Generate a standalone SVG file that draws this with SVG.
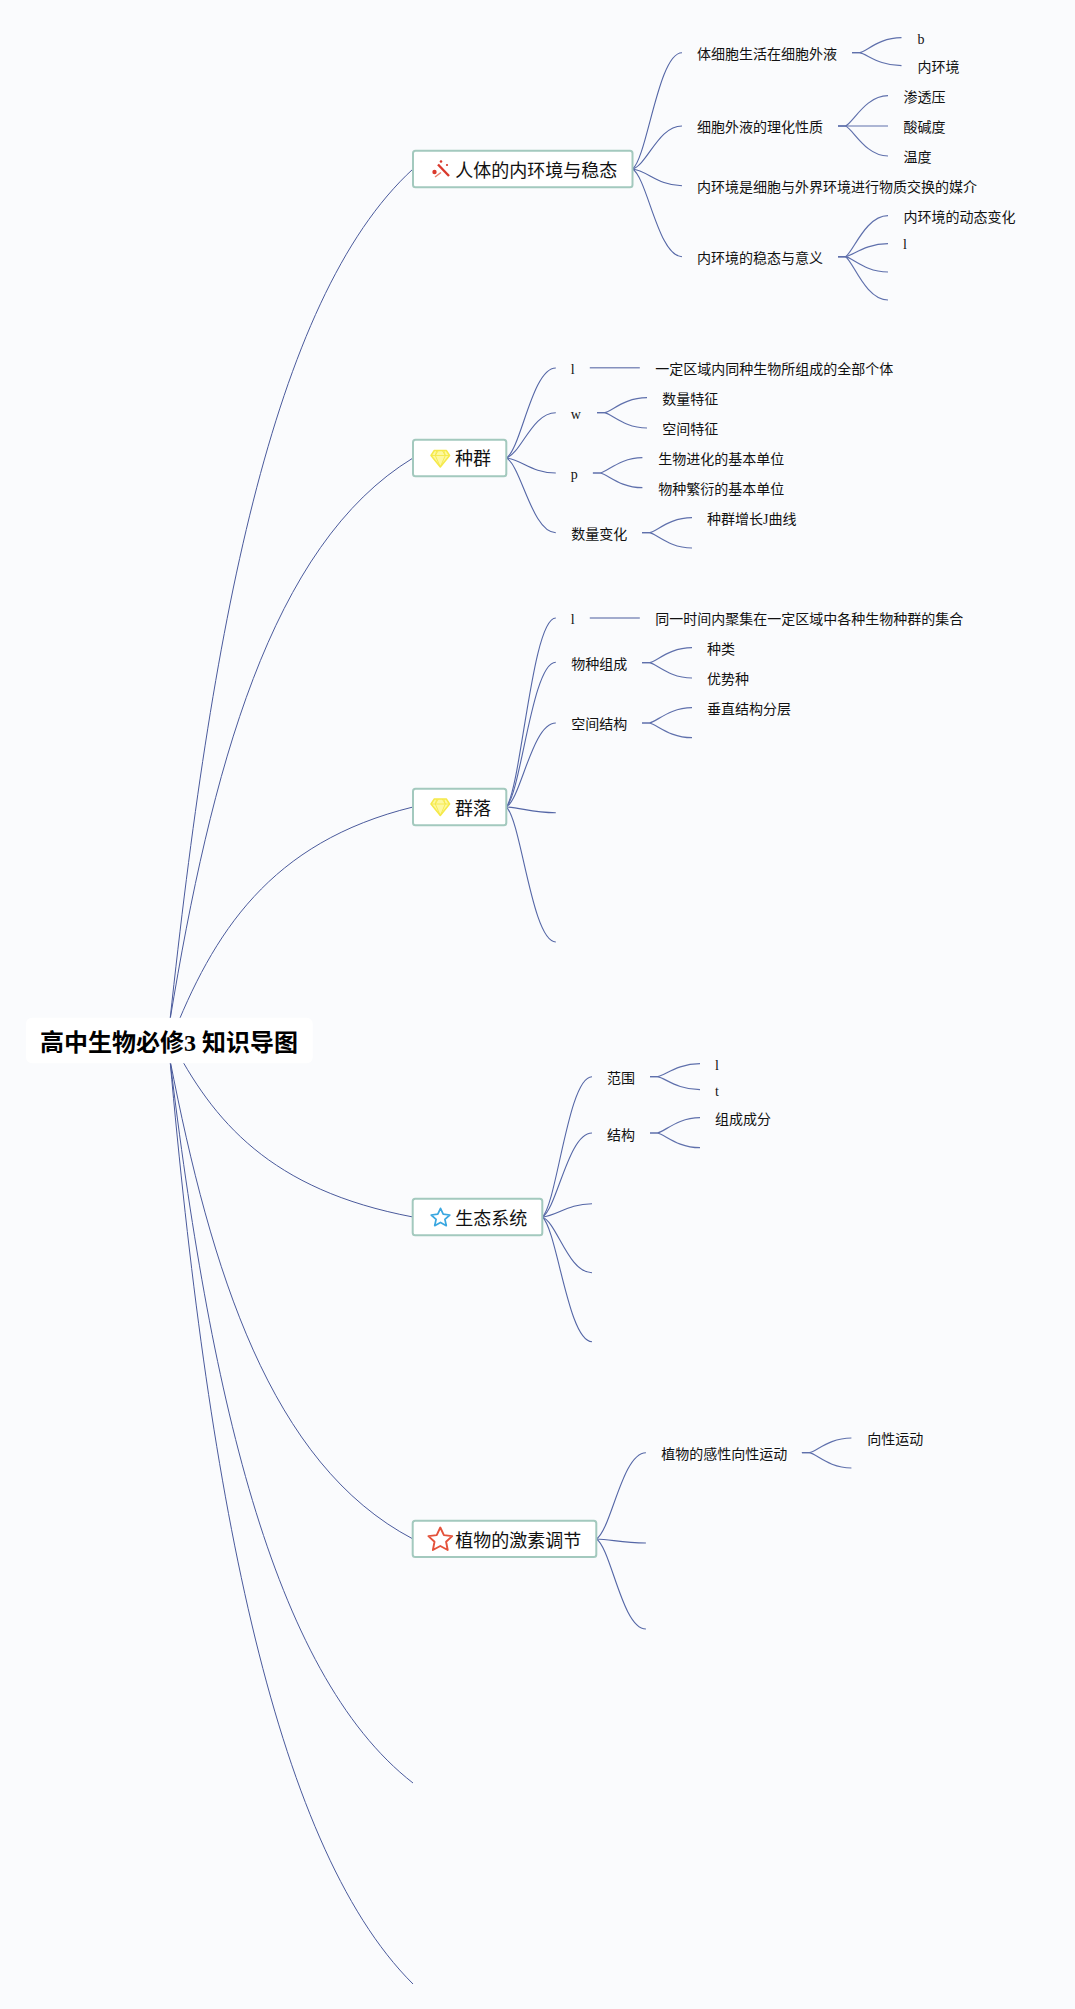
<svg xmlns="http://www.w3.org/2000/svg" width="1075" height="2009" viewBox="0 0 1075 2009">
<style>
text{font-family:"Liberation Serif","Noto Sans CJK SC",serif;fill:#111}
.t{font-size:14px}
.m{font-size:18px}
.r{font-size:24px;font-weight:700;fill:#000}
.box{fill:#fff;stroke:#a3c9be;stroke-width:2}
#connectors path{fill:none}
.c1{stroke:#4a5a9c;stroke-width:1}
.c2{stroke:#5466a6;stroke-width:1.1}
.c3{stroke:#5f70ac;stroke-width:1.2}
.c4{stroke:#8490bd;stroke-width:1.6}
.d{fill:#fdf8a0;stroke:#f5e94a;stroke-width:1.5;stroke-linejoin:round}
.di{fill:none;stroke:#f5e94a;stroke-width:.9}
</style>
<defs>
<g id="diamond">
<path class="d" d="M-6-8H6L9.300-3 0 8.500-9.300-3Z"/>
<path class="di" d="M-9.300-3H9.300M-3.500-8-5-3 0 8.500 5-3 3.500-8M-5-3-2-8M5-3 2-8"/>
</g>
</defs>
<rect width="1075" height="2009" fill="#fafbfd"/>
<g id="connectors">
<g class="c1">
<path d="M170 1020C211 640 270 300 413 169"/>
<path d="M170 1020C211 772 270 545 413 458"/>
<path d="M171 1040C213 933 270 842 413 807"/>
<path d="M171 1040C213 1121 270 1190 413 1217"/>
<path d="M170 1060C211 1270 270 1464 413 1539"/>
<path d="M170 1060C209 1382 270 1672 413 1783"/>
<path d="M170 1060C207 1474 270 1842 413 1984"/>
</g>
<g class="c2">
<path d="M632.500 169C647.400 157.400 658.200 52.700 682 52.700"/>
<path d="M632.500 169C647.400 164.700 658.200 126 682 126"/>
<path d="M632.500 169C647.400 170.700 658.200 185.700 682 185.700"/>
<path d="M632.500 169C647.400 177.800 658.200 256.700 682 256.700"/>
<path d="M506.300 458C521.200 449 532 368 555.800 368"/>
<path d="M506.300 458C521.200 453.500 532 412.700 555.800 412.700"/>
<path d="M506.300 458C521.200 459.500 532 473 555.800 473"/>
<path d="M506.300 458C521.200 465.500 532 532.700 555.800 532.700"/>
<path d="M506.300 807C521.200 788.100 532 618 555.800 618"/>
<path d="M506.300 807C521.200 792.500 532 662.300 555.800 662.300"/>
<path d="M506.300 807C521.200 798.600 532 723 555.800 723"/>
<path d="M506.300 807C521.200 807.600 532 812.700 555.800 812.700"/>
<path d="M506.300 807C521.200 820.500 532 942 555.800 942"/>
<path d="M542.300 1217C557.200 1203 568.100 1076.700 592 1076.700"/>
<path d="M542.300 1217C557.200 1208.600 568.100 1133 592 1133"/>
<path d="M542.300 1217C557.200 1215.700 568.100 1203.700 592 1203.700"/>
<path d="M542.300 1217C557.200 1222.600 568.100 1272.700 592 1272.700"/>
<path d="M542.300 1217C557.200 1229.500 568.100 1341.700 592 1341.700"/>
<path d="M596.300 1539C611.200 1530.400 622.100 1452.700 645.900 1452.700"/>
<path d="M596.300 1539C611.200 1539.400 622.100 1543 645.900 1543"/>
<path d="M596.300 1539C611.200 1548 622.100 1629 645.900 1629"/>
</g>
<g class="c3">
<path d="M852 52.700H859.500C867 51.200 879 37.700 901.500 37.700"/>
<path d="M852 52.700H859.500C867 54 879 65.700 901.500 65.700"/>
<path d="M838 126H845.500C853 123 865.500 95.700 888 95.700"/>
<path d="M838 126H888"/>
<path d="M838 126H845.500C853 129 865.500 156 888 156"/>
<path d="M838 256.700H845.500C853 252.600 865.500 215.700 888 215.700"/>
<path d="M838 256.700H845.500C853 255.400 865.500 243.700 888 243.700"/>
<path d="M838 256.700H845.500C853 258.200 865.500 272 888 272"/>
<path d="M838 256.700H845.500C853 261 865.500 300 888 300"/>
<path d="M597 412.700H604.500C612 411.200 624.500 397.700 647 397.700"/>
<path d="M597 412.700H604.500C612 414.200 624.500 428 647 428"/>
<path d="M592.900 473H600.400C607.900 471.500 620.100 457.700 642.400 457.700"/>
<path d="M592.900 473H600.400C607.900 474.500 620.100 487.700 642.400 487.700"/>
<path d="M642 532.700H649.500C657 531.200 669.500 517.700 692 517.700"/>
<path d="M642 532.700H649.500C657 534.200 669.500 548 692 548"/>
<path d="M642 662.700H649.500C657 661.200 669.500 647.700 692 647.700"/>
<path d="M642 662.700H649.500C657 664.200 669.500 678 692 678"/>
<path d="M642 723H649.500C657 721.500 669.500 707.700 692 707.700"/>
<path d="M642 723H649.500C657 724.500 669.500 737.700 692 737.700"/>
<path d="M650 1076.700H657.500C665 1075.400 677.500 1063.700 700 1063.700"/>
<path d="M650 1076.700H657.500C665 1078 677.500 1089.700 700 1089.700"/>
<path d="M650 1133H657.500C665 1131.500 677.500 1117.700 700 1117.700"/>
<path d="M650 1133H657.500C665 1134.500 677.500 1147.700 700 1147.700"/>
<path d="M801.900 1452.700H809.400C816.900 1451.200 829.100 1438 851.400 1438"/>
<path d="M801.900 1452.700H809.400C816.900 1454.200 829.100 1468 851.400 1468"/>
</g>
<g class="c4">
<path d="M589.800 367.700H639.800"/>
<path d="M589.800 618H639.800"/>
</g>
</g>
<g id="root">
<rect x="26" y="1017.700" width="286.700" height="45.600" rx="6" fill="#fff"/>
<text class="r" x="40" y="1051">高中生物必修3 知识导图</text>
</g>
<g id="node-1">
<rect class="box" x="413" y="150.700" width="219.500" height="36.600" rx="2.500"/>
<g fill="#d9392c">
<path d="M438 164.500 449 176" stroke="#d9392c" stroke-width="2.400"/>
<circle cx="434.500" cy="172" r="2.200"/>
<circle cx="441" cy="161.500" r="1.300"/>
<circle cx="447" cy="165" r="1.100"/>
<path d="M435 177 441 172.500" stroke="#e8826f" stroke-width="1.500"/>
</g>
<text class="m" x="455.300" y="176.700">人体的内环境与稳态</text>
</g>
<g id="n1-1"><text class="t" x="697" y="58.500">体细胞生活在细胞外液</text></g>
<g id="n1-1-1"><text class="t" x="917.400" y="43.500">b</text></g>
<g id="n1-1-2"><text class="t" x="917.400" y="71.800">内环境</text></g>
<g id="n1-2"><text class="t" x="697" y="131.800">细胞外液的理化性质</text></g>
<g id="n1-2-1"><text class="t" x="903.600" y="101.800">渗透压</text></g>
<g id="n1-2-2"><text class="t" x="903.600" y="131.800">酸碱度</text></g>
<g id="n1-2-3"><text class="t" x="903.600" y="161.800">温度</text></g>
<g id="n1-3"><text class="t" x="697" y="192.300">内环境是细胞与外界环境进行物质交换的媒介</text></g>
<g id="n1-4"><text class="t" x="697" y="262.800">内环境的稳态与意义</text></g>
<g id="n1-4-1"><text class="t" x="903.600" y="222.300">内环境的动态变化</text></g>
<g id="n1-4-2"><text class="t" x="903" y="249">l</text></g>
<g id="node-2">
<rect class="box" x="413" y="439.700" width="93.300" height="36.600" rx="2.500"/>
<use href="#diamond" x="440.300" y="458.500"/>
<text class="m" x="455" y="465">种群</text>
</g>
<g id="n2-1"><text class="t" x="570.800" y="373.500">l</text></g>
<g id="n2-1-1"><text class="t" x="655.300" y="374.300">一定区域内同种生物所组成的全部个体</text></g>
<g id="n2-2"><text class="t" x="570.800" y="418.500">w</text></g>
<g id="n2-2-1"><text class="t" x="662.200" y="404">数量特征</text></g>
<g id="n2-2-2"><text class="t" x="662.200" y="434">空间特征</text></g>
<g id="n2-3"><text class="t" x="570.800" y="478.500">p</text></g>
<g id="n2-3-1"><text class="t" x="658.300" y="464">生物进化的基本单位</text></g>
<g id="n2-3-2"><text class="t" x="658.300" y="494.300">物种繁衍的基本单位</text></g>
<g id="n2-4"><text class="t" x="571.300" y="538.800">数量变化</text></g>
<g id="n2-4-1"><text class="t" x="707" y="524.300">种群增长J曲线</text></g>
<g id="node-3">
<rect class="box" x="413" y="788.700" width="93.300" height="36.600" rx="2.500"/>
<use href="#diamond" x="440.300" y="807"/>
<text class="m" x="455" y="814.500">群落</text>
</g>
<g id="n3-1"><text class="t" x="570.800" y="623.500">l</text></g>
<g id="n3-1-1"><text class="t" x="655.300" y="624.300">同一时间内聚集在一定区域中各种生物种群的集合</text></g>
<g id="n3-2"><text class="t" x="571.300" y="668.800">物种组成</text></g>
<g id="n3-2-1"><text class="t" x="707" y="653.800">种类</text></g>
<g id="n3-2-2"><text class="t" x="707" y="684">优势种</text></g>
<g id="n3-3"><text class="t" x="571.300" y="729">空间结构</text></g>
<g id="n3-3-1"><text class="t" x="707" y="714">垂直结构分层</text></g>
<g id="node-4">
<rect class="box" x="412.700" y="1198.700" width="129.600" height="36.600" rx="2.500"/>
<path d="M440.500 1208.300 443.200 1214.200 449.800 1215 444.900 1219.300 446.300 1225.700 440.500 1222.400 434.700 1225.700 436.100 1219.300 431.200 1215 437.800 1214.200Z" fill="#fff" stroke="#3aa7e0" stroke-width="1.700" stroke-linejoin="round"/>
<text class="m" x="455.200" y="1225">生态系统</text>
</g>
<g id="n4-1"><text class="t" x="607" y="1082.800">范围</text></g>
<g id="n4-1-1"><text class="t" x="715" y="1069.500">l</text></g>
<g id="n4-1-2"><text class="t" x="715" y="1096">t</text></g>
<g id="n4-2"><text class="t" x="607" y="1139.500">结构</text></g>
<g id="n4-2-1"><text class="t" x="715" y="1123.800">组成成分</text></g>
<g id="node-5">
<rect class="box" x="412.700" y="1520.700" width="183.600" height="36.300" rx="2.500"/>
<path d="M440.300 1527.500 443.900 1535.100 452.200 1536.100 446.100 1541.800 447.700 1550 440.300 1546 432.900 1550 434.500 1541.800 428.400 1536.100 436.700 1535.100Z" fill="#fff" stroke="#e4523b" stroke-width="1.900" stroke-linejoin="round"/>
<text class="m" x="455.200" y="1546.500">植物的激素调节</text>
</g>
<g id="n5-1"><text class="t" x="661.200" y="1458.800">植物的感性向性运动</text></g>
<g id="n5-1-1"><text class="t" x="867.200" y="1444">向性运动</text></g>
</svg>
